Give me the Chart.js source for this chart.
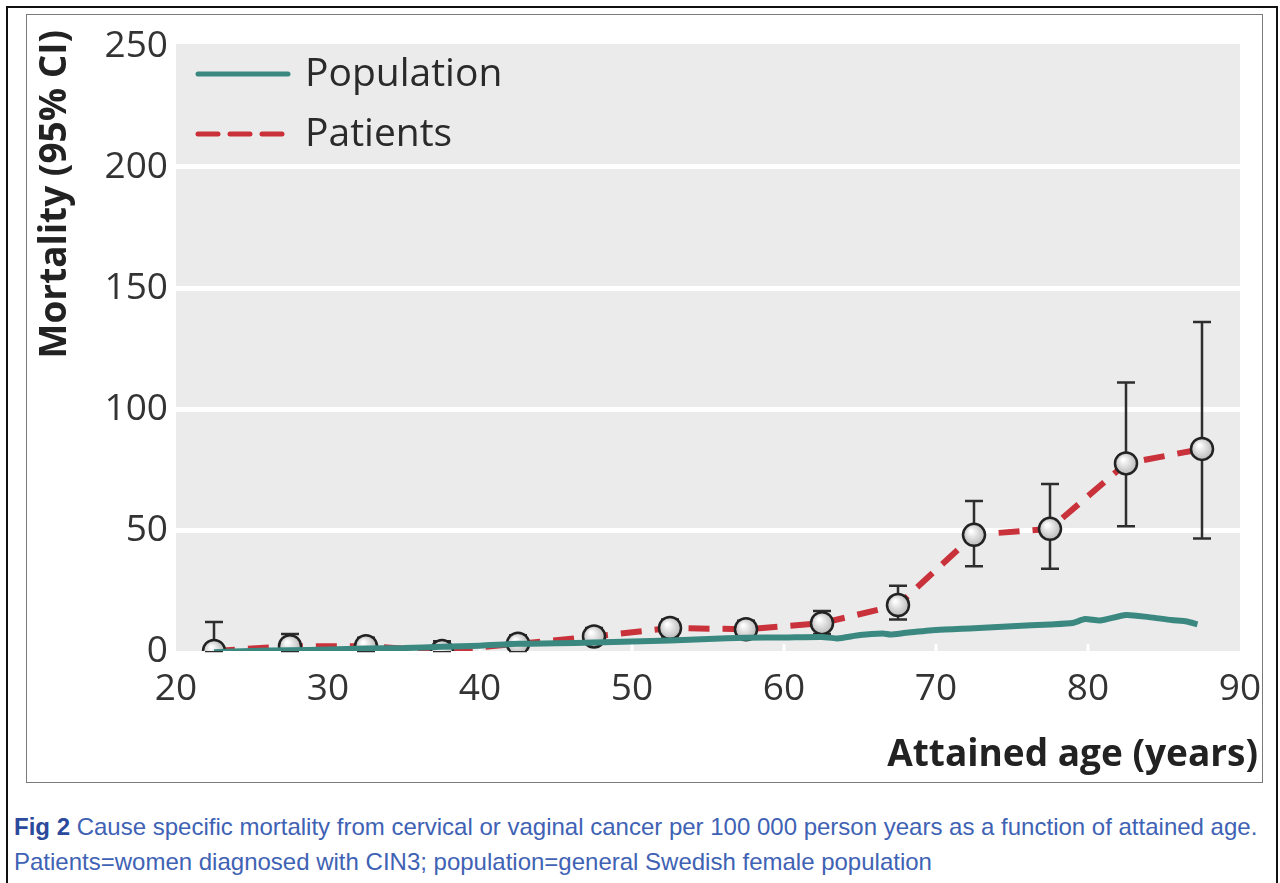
<!DOCTYPE html>
<html>
<head>
<meta charset="utf-8">
<script src="https://cdn.jsdelivr.net/npm/chart.js@4.4.1/dist/chart.umd.min.js"></script>
<style>
  body { margin: 0; background: #fff; width: 1280px; height: 883px; overflow: hidden; position: relative; }
  #outer { position: absolute; left: 6px; top: 6px; width: 1268px; height: 900px; border: 2px solid #111; }
  #frame { position: absolute; left: 26px; top: 14px; width: 1235px; height: 767px; border: 1px solid #7a7a7a; }
  #chart { position: absolute; left: 28px; top: 16px; }
  .caption { position: absolute; left: 14px; font-family: "Liberation Sans", Arial, sans-serif; font-size: 24px; color: #4062b4; white-space: nowrap; }
  .caption b { color: #2b4a9c; }
</style>
</head>
<body>
<div id="outer"></div>
<div id="frame"></div>
<canvas id="chart" width="1233" height="765"></canvas>
<div class="caption" style="top: 813px;"><b>Fig 2</b> Cause specific mortality from cervical or vaginal cancer per 100 000 person years as a function of attained age.</div>
<div class="caption" style="top: 848px;">Patients=women diagnosed with CIN3; population=general Swedish female population</div>

<script>
//patients: mid point of each 5 year age band
const ageMid = [22.5, 27.5, 32.5, 37.5, 42.5, 47.5, 52.5, 57.5, 62.5, 67.5, 72.5, 77.5, 82.5, 87.5];
const patRate = [0, 2, 2, 0, 3, 6, 9.5, 9, 11.5, 19, 48, 50.5, 77.5, 83.5];
const patLower = [0, 0, 0, 0, 0, 3, 6, 6, 7, 13, 35, 34, 51.5, 46.5];
const patUpper = [12, 7, 5.5, 4, 6.5, 9.5, 13, 12.5, 16.5, 27, 62, 69, 111, 136];

//population
const popAge = [22.5, 25, 27.5, 30, 32.5, 35, 37.5, 40, 42.5, 45, 47.5, 50, 52.5, 55, 57.5, 60, 62.5, 63.5, 65, 66.5, 67, 68, 70, 72.5, 75, 77.5, 79, 79.8, 80.8, 82.5, 84, 85.5, 86.5, 87.2];
const popRate = [-0.5, 0, 0.3, 0.6, 1, 1.2, 1.8, 2.2, 3, 3.2, 3.5, 3.9, 4.3, 5, 5.5, 5.6, 5.8, 5.2, 6.6, 7.2, 6.8, 7.5, 8.7, 9.4, 10.2, 11, 11.6, 13.2, 12.6, 14.9, 14, 12.8, 12.2, 11];

//axis
const xTicks = [20, 30, 40, 50, 60, 70, 80, 90];
const yTicks = [0, 50, 100, 150, 200, 250];

const teal = '#3a8880';
const red = '#c9323a';
const chartFont = '"Open Sans", "Noto Sans", sans-serif';

//gray panel behind the plot
const panelPlugin = {
  id: 'panel',
  beforeDraw: (chart) => {
    const { ctx, chartArea } = chart;
    ctx.save();
    ctx.fillStyle = '#ebebeb';
    ctx.fillRect(chartArea.left, chartArea.top - 2, chartArea.right - chartArea.left, chartArea.bottom - chartArea.top + 2);
    ctx.restore();
  },
  beforeDatasetsDraw: (chart) => {
    //small white ticks at the bottom of the panel
    const { ctx, chartArea, scales } = chart;
    ctx.save();
    ctx.strokeStyle = '#ffffff';
    ctx.lineWidth = 3;
    xTicks.slice(1, -1).forEach((t) => {
      const px = scales.x.getPixelForValue(t);
      ctx.beginPath();
      ctx.moveTo(px, chartArea.bottom);
      ctx.lineTo(px, chartArea.bottom - 7);
      ctx.stroke();
    });
    ctx.restore();
  },
};

//axis titles, placed like the original (sticking out past the panel)
const titlePlugin = {
  id: 'axisTitles',
  afterDraw: (chart) => {
    const { ctx, chartArea, options } = chart;
    ctx.save();
    ctx.fillStyle = '#222222';
    ctx.font = 'bold 37px ' + chartFont;
    ctx.textBaseline = 'middle';
    ctx.textAlign = 'right';
    ctx.fillText(options.scales.x.title.text, chartArea.right + 18, chartArea.bottom + 104);
    ctx.translate(27, chartArea.top - 16);
    ctx.rotate(-Math.PI / 2);
    ctx.fillText(options.scales.y.title.text, 0, 0);
    ctx.restore();
  },
};

//95% CI bars for patients
const errorBarPlugin = {
  id: 'errorBars',
  beforeDatasetsDraw: (chart) => {
    const { ctx, scales } = chart;
    ctx.save();
    ctx.strokeStyle = '#2e2e2e';
    ctx.lineWidth = 2.5;
    for (let i = 0; i < ageMid.length; i++) {
      const px = scales.x.getPixelForValue(ageMid[i]);
      const lo = scales.y.getPixelForValue(patLower[i]);
      const hi = scales.y.getPixelForValue(patUpper[i]);
      ctx.beginPath();
      ctx.moveTo(px, lo);
      ctx.lineTo(px, hi);
      ctx.moveTo(px - 9, hi);
      ctx.lineTo(px + 9, hi);
      ctx.moveTo(px - 9, lo);
      ctx.lineTo(px + 9, lo);
      ctx.stroke();
    }
    ctx.restore();
  },
};

//legend inside the panel, top left
const legendPlugin = {
  id: 'insideLegend',
  afterDraw: (chart) => {
    const { ctx, chartArea } = chart;
    const items = [
      { label: chart.data.datasets[1].label, color: teal, dash: [] },
      { label: chart.data.datasets[0].label, color: red, dash: [20, 12] },
    ];
    ctx.save();
    items.forEach((it, i) => {
      const y = chartArea.top + 28 + i * 60;
      const x0 = chartArea.left + 22;
      ctx.strokeStyle = it.color;
      ctx.lineWidth = 5;
      ctx.lineCap = 'round';
      ctx.setLineDash(it.dash);
      ctx.beginPath();
      ctx.moveTo(x0, y);
      ctx.lineTo(x0 + 90, y);
      ctx.stroke();
      ctx.setLineDash([]);
      ctx.fillStyle = '#2a2a2a';
      ctx.font = '39px ' + chartFont;
      ctx.textBaseline = 'middle';
      ctx.fillText(it.label, x0 + 107, y + 1);
    });
    ctx.restore();
  },
};

const pointFill = (c) => {
  if (c.dataIndex === undefined || !c.chart.scales.x) return '#dddddd';
  const px = c.chart.scales.x.getPixelForValue(ageMid[c.dataIndex]);
  const py = c.chart.scales.y.getPixelForValue(patRate[c.dataIndex]);
  if (!isFinite(px) || !isFinite(py)) return '#dddddd';
  const g = c.chart.ctx.createRadialGradient(px - 3, py - 4, 1, px, py, 12);
  g.addColorStop(0, '#ffffff');
  g.addColorStop(1, '#b4b4b4');
  return g;
};

const displayChart = () => {
  new Chart(document.querySelector('#chart'), {
    type: 'line',
    data: {
      datasets: [
        {
          label: 'Patients',
          data: ageMid.map((a, i) => ({ x: a, y: patRate[i] })),
          borderColor: red,
          borderWidth: 6,
          borderDash: [21, 13],
          pointRadius: 11,
          pointBorderWidth: 2.5,
          pointBorderColor: '#222222',
          pointBackgroundColor: pointFill,
          tension: 0,
          order: 2,
        },
        {
          label: 'Population',
          data: popAge.map((a, i) => ({ x: a, y: popRate[i] })),
          borderColor: teal,
          borderWidth: 6,
          pointRadius: 0,
          tension: 0.2,
          order: 1,
        },
      ],
    },
    options: {
      responsive: false,
      animation: false,
      devicePixelRatio: 1,
      layout: { padding: { left: 0, top: 30, right: 21, bottom: 0 } },
      plugins: {
        legend: { display: false },
        tooltip: { enabled: false },
      },
      scales: {
        x: {
          type: 'linear',
          min: 20,
          max: 90,
          afterFit: (s) => {
            s.height = 130;
            s.paddingLeft = 0;
            s.paddingRight = 0;
          },
          afterBuildTicks: (s) => { s.ticks = xTicks.map((v) => ({ value: v })); },
          grid: { display: false, drawTicks: false },
          border: { display: false },
          ticks: { padding: 16, color: '#333333', font: { family: chartFont, size: 37 }, maxRotation: 0 },
          title: { display: false, text: 'Attained age (years)' },
        },
        y: {
          min: 0,
          max: 250,
          afterFit: (s) => {
            s.width = 148;
            s.paddingTop = 0;
            s.paddingBottom = 0;
          },
          afterBuildTicks: (s) => { s.ticks = yTicks.map((v) => ({ value: v })); },
          grid: {
            color: (c) => (c.tick && (c.tick.value === 0 || c.tick.value === 250) ? 'rgba(0,0,0,0)' : '#ffffff'),
            lineWidth: 5,
            drawTicks: false,
          },
          border: { display: false },
          ticks: { padding: 8, color: '#333333', font: { family: chartFont, size: 37 } },
          title: { display: false, text: 'Mortality (95% CI)' },
        },
      },
    },
    plugins: [panelPlugin, errorBarPlugin, legendPlugin, titlePlugin],
  });
};

displayChart();
</script>
</body>
</html>
